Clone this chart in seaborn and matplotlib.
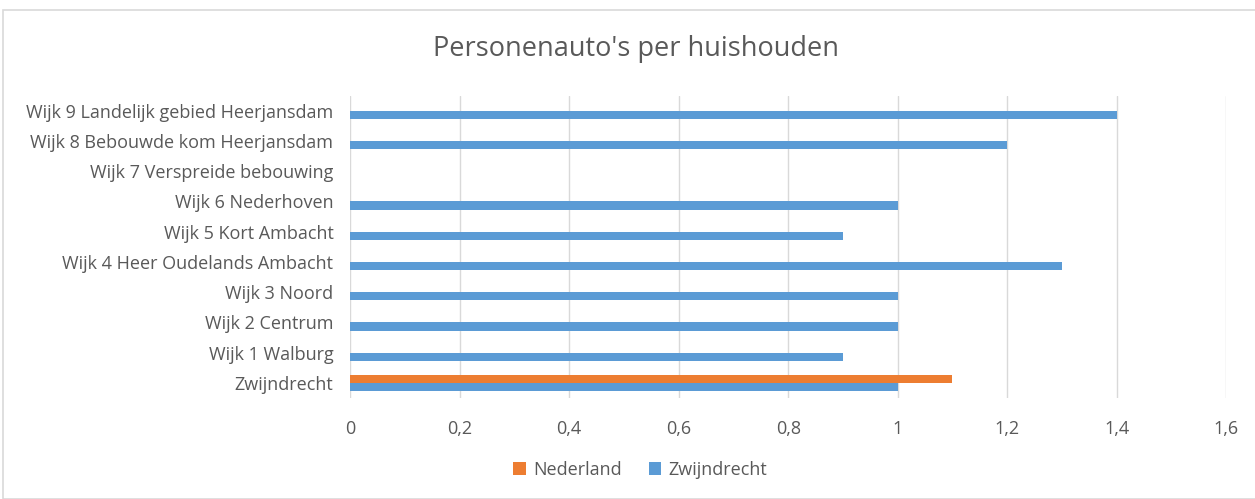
import numpy as np
import pandas as pd
import seaborn as sns
import matplotlib.pyplot as plt
from matplotlib.patches import Rectangle

wijken = ['Wijk 9 Landelijk gebied Heerjansdam', 'Wijk 8 Bebouwde kom Heerjansdam',
          'Wijk 7 Verspreide bebouwing', 'Wijk 6 Nederhoven', 'Wijk 5 Kort Ambacht',
          'Wijk 4 Heer Oudelands Ambacht', 'Wijk 3 Noord', 'Wijk 2 Centrum',
          'Wijk 1 Walburg', 'Zwijndrecht']
nederland = [np.nan] * 9 + [1.1]
zwijndrecht = [1.4, 1.2, np.nan, 1.0, 0.9, 1.3, 1.0, 1.0, 0.9, 1.0]
series = ['Nederland', 'Zwijndrecht']
xticks = [0, 0.2, 0.4, 0.6, 0.8, 1, 1.2, 1.4, 1.6]

df = pd.DataFrame({'wijk': wijken * 2,
                   'reeks': ['Nederland'] * 10 + ['Zwijndrecht'] * 10,
                   'waarde': nederland + zwijndrecht})

sns.set_style('white')
plt.rcParams['font.family'] = ['Open Sans', 'DejaVu Sans']
txt = '#595959'

fig = plt.figure(figsize=(12.55, 4.99), dpi=100)
ax = fig.add_axes([0.279, 0.2024, 0.698, 0.606])
sns.barplot(data=df, x='waarde', y='wijk', hue='reeks', hue_order=series,
            order=wijken, orient='h', width=0.54, palette=['#ED7D31', '#5B9BD5'],
            saturation=1, ax=ax, errorbar=None, linewidth=0)

ax.set_xlim(0, 1.6)
ax.set_xticks(xticks)
ax.set_xticklabels([f'{t:g}'.replace('.', ',') for t in xticks])
ax.grid(axis='x', color='#D9D9D9', linewidth=1)
ax.set_axisbelow(True)
for s in ax.spines.values():
    s.set_visible(False)
ax.tick_params(length=0, labelsize=13, colors=txt)
ax.tick_params(axis='x', pad=16)
ax.tick_params(axis='y', pad=12)
ax.set_xlabel('')
ax.set_ylabel('')
fig.text(0.507, 0.902, "Personenauto's per huishouden", fontsize=19.5, color=txt,
         ha='center', va='center')

leg = fig.legend(*ax.get_legend_handles_labels(), loc='center', bbox_to_anchor=(0.51, 0.058),
                 ncol=2, frameon=False, fontsize=13, handlelength=0.7, handleheight=0.7,
                 columnspacing=1.5, handletextpad=0.4)
ax.get_legend().remove()
for t in leg.get_texts():
    t.set_color(txt)

fig.patches.append(Rectangle((3 / 1255, 0), 1.2, 1 - 10 / 499, transform=fig.transFigure,
                             fill=False, edgecolor='#D9D9D9', linewidth=1.2))

fig.savefig('out.png', dpi=100)
